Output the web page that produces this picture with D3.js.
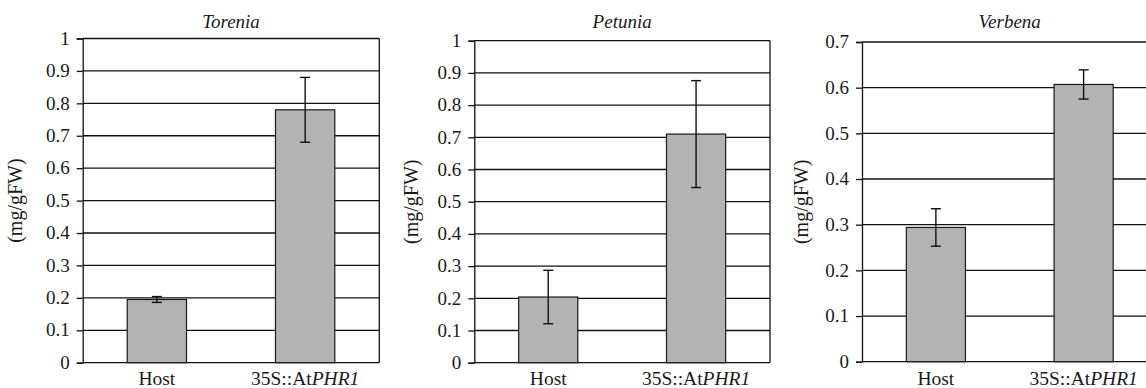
<!DOCTYPE html>
<html>
<head>
<meta charset="utf-8">
<script src="https://cdn.jsdelivr.net/npm/d3@7"></script>
<style>
  html, body { margin: 0; padding: 0; background: #fff; }
  svg { display: block; }
  text { font-family: "Liberation Serif", "Times New Roman", serif; fill: #1a1a1a; }
</style>
</head>
<body>
<svg id="chart" width="1146" height="388"></svg>
<script>
// ---- data ----
const categories = ["Host", "35S::AtPHR1"];
const panelTitles = ["Torenia", "Petunia", "Verbena"];
const yAxisLabel = "(mg/gFW)";

const toreniaMeans = [0.195, 0.78];
const toreniaErrors = [0.009, 0.1];
const petuniaMeans = [0.204, 0.71];
const petuniaErrors = [0.083, 0.166];
const verbenaMeans = [0.294, 0.607];
const verbenaErrors = [0.041, 0.032];

const toreniaTicks = [0, 0.1, 0.2, 0.3, 0.4, 0.5, 0.6, 0.7, 0.8, 0.9, 1];
const petuniaTicks = [0, 0.1, 0.2, 0.3, 0.4, 0.5, 0.6, 0.7, 0.8, 0.9, 1];
const verbenaTicks = [0, 0.1, 0.2, 0.3, 0.4, 0.5, 0.6, 0.7];

// ---- layout (positions only) ----
const panels = [
  { title: panelTitles[0], means: toreniaMeans, errs: toreniaErrors, ticks: toreniaTicks,
    x0: 82.7, x1: 379.3, yTop: 38.5, yBottom: 362.7, labelX: 15 },
  { title: panelTitles[1], means: petuniaMeans, errs: petuniaErrors, ticks: petuniaTicks,
    x0: 474.3, x1: 770, yTop: 40.7, yBottom: 362.7, labelX: 411 },
  { title: panelTitles[2], means: verbenaMeans, errs: verbenaErrors, ticks: verbenaTicks,
    x0: 862, x1: 1157.5, yTop: 42, yBottom: 361.7, labelX: 801 }
];

const svg = d3.select("#chart");
const fmt = v => d3.format("~g")(+v.toFixed(2));

panels.forEach(p => {
  const g = svg.append("g");
  const yMax = p.ticks[p.ticks.length - 1];
  const y = d3.scaleLinear().domain([0, yMax]).range([p.yBottom, p.yTop]);
  const x = d3.scaleBand().domain(categories).range([p.x0, p.x1]).paddingInner(0.6).paddingOuter(0.3);

  // gridlines
  g.selectAll("line.grid").data(p.ticks).join("line")
    .attr("x1", p.x0).attr("x2", p.x1)
    .attr("y1", d => y(d)).attr("y2", d => y(d))
    .attr("stroke", "#111").attr("stroke-width", 1.3);

  // y axis
  const yAxis = d3.axisLeft(y).tickValues(p.ticks).tickFormat(fmt).tickSize(6).tickPadding(7);
  const ya = g.append("g").attr("transform", `translate(${p.x0},0)`).call(yAxis);
  ya.attr("font-family", null);
  ya.select(".domain").attr("stroke", "#111").attr("stroke-width", 1.3);
  ya.selectAll(".tick line").attr("stroke", "#111").attr("stroke-width", 1.3);
  ya.selectAll(".tick text").style("font-family", '"Liberation Serif", serif')
    .style("font-size", "19px").attr("fill", "#1a1a1a").attr("dy", "0.3em");

  // right border
  g.append("line").attr("x1", p.x1).attr("x2", p.x1).attr("y1", y(yMax)).attr("y2", y(0))
    .attr("stroke", "#111").attr("stroke-width", 1.3);

  // bars
  g.selectAll("rect.bar").data(categories).join("rect")
    .attr("x", d => x(d)).attr("width", x.bandwidth())
    .attr("y", (d, i) => y(p.means[i])).attr("height", (d, i) => y(0) - y(p.means[i]))
    .attr("fill", "#b3b3b3").attr("stroke", "#1a1a1a").attr("stroke-width", 1.2);

  // error bars
  const capW = 5;
  categories.forEach((c, i) => {
    const cx = x(c) + x.bandwidth() / 2;
    const hi = y(p.means[i] + p.errs[i]), lo = y(p.means[i] - p.errs[i]);
    g.append("line").attr("x1", cx).attr("x2", cx).attr("y1", hi).attr("y2", lo)
      .attr("stroke", "#111").attr("stroke-width", 1.4);
    [hi, lo].forEach(yy => g.append("line").attr("x1", cx - capW).attr("x2", cx + capW)
      .attr("y1", yy).attr("y2", yy).attr("stroke", "#111").attr("stroke-width", 1.4));
  });

  // x labels
  categories.forEach(c => {
    const t = g.append("text").attr("x", x(c) + x.bandwidth() / 2).attr("y", 385)
      .attr("text-anchor", "middle").style("font-size", "19.5px");
    const m = c.match(/^(.*At)(PHR1)$/);
    if (m) {
      t.append("tspan").text(m[1]);
      t.append("tspan").style("font-style", "italic").text(m[2]);
    } else t.text(c);
  });

  // title
  g.append("text").attr("x", (p.x0 + p.x1) / 2).attr("y", 28)
    .attr("text-anchor", "middle").style("font-style", "italic").style("font-size", "19px")
    .text(p.title);

  // y label
  g.append("text").attr("transform", `translate(${p.labelX + 7},${(p.yTop + p.yBottom) / 2}) rotate(-90)`)
    .attr("text-anchor", "middle").style("font-size", "20px").text(yAxisLabel);
});
</script>
</body>
</html>
